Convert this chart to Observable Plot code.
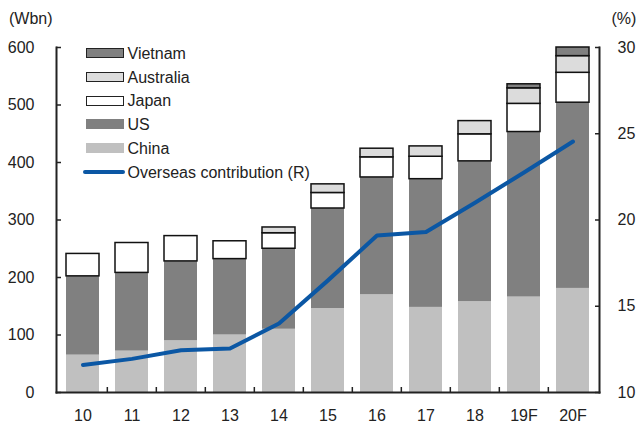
<!DOCTYPE html>
<html><head><meta charset="utf-8">
<script src="https://cdn.jsdelivr.net/npm/d3@7"></script>
<script src="https://cdn.jsdelivr.net/npm/@observablehq/plot@0.6"></script>
<style>
body{margin:0;background:#fff;font-family:"Liberation Sans",Arial,sans-serif;color:#222;}
#wrap{position:relative;width:637px;height:428px;overflow:hidden;}
#wrap svg{position:absolute;left:0;top:0;}
.t{position:absolute;font-size:16px;line-height:16px;white-space:nowrap;}
.sw{position:absolute;box-sizing:border-box;}
</style></head><body><div id="wrap"></div>
<script>
const years = ["10","11","12","13","14","15","16","17","18","19F","20F"];
const china = [65, 72, 90, 100, 110, 146, 170, 148, 158, 166, 181];
const us = [137, 136, 138, 132, 140, 174, 204, 223, 244, 287, 323];
const japan = [39, 52, 44, 31, 27, 27, 35, 39, 47, 49, 52];
const australia = [0, 0, 0, 0, 10, 15, 15, 18, 23, 27, 29];
const vietnam = [0, 0, 0, 0, 0, 0, 0, 0, 0, 7, 15];
const overseas = [11.6, 11.95, 12.45, 12.55, 14.0, 16.5, 19.1, 19.3, 21.0, 22.75, 24.55];
const leftTicks = [0, 100, 200, 300, 400, 500, 600];
const rightTicks = [10, 15, 20, 25, 30];

const series = [
  {name: "China", values: china, fill: "#c0c0c0", outline: false},
  {name: "US", values: us, fill: "#808080", outline: false},
  {name: "Japan", values: japan, fill: "#ffffff", outline: true},
  {name: "Australia", values: australia, fill: "#dcdcdc", outline: true},
  {name: "Vietnam", values: vietnam, fill: "#808080", outline: true}
];
const lineColor = "#0b57a4";
const rMin = 10, rMax = 30, lMax = 600;
const toLeft = v => (v - rMin) / (rMax - rMin) * lMax;

const barData = [];
for (const s of series) years.forEach((y, i) => {
  if (s.values[i] > 0) barData.push({year: y, series: s.name, value: s.values[i], fill: s.fill, stroke: s.outline ? "#111" : "none"});
});
const lineData = years.map((y, i) => ({year: y, v: toLeft(overseas[i])}));

const W = 637, H = 428, mL = 56, mR = 38, mT = 47, mB = 36;
const halfStep = (W - mL - mR) / (years.length - 0.33 + 0.334) / 2;

const chart = Plot.plot({
  width: W, height: H,
  marginLeft: mL, marginRight: mR, marginTop: mT, marginBottom: mB,
  style: {fontFamily: '"Liberation Sans", Arial, sans-serif', fontSize: "16px", color: "#222", background: "white"},
  x: {domain: years, paddingInner: 0.33, paddingOuter: 0.167, label: null},
  y: {domain: [0, lMax], label: null},
  marks: [
    Plot.barY(barData, {x: "year", y: "value", fill: "fill", stroke: "stroke", strokeWidth: 1.5, order: series.map(s => s.name), z: "series"}),
    Plot.line(lineData, {x: "year", y: "v", stroke: lineColor, strokeWidth: 4}),
    Plot.axisY(leftTicks, {anchor: "left", tickSize: -5, tickPadding: 27, strokeWidth: 1.5, fontSize: 16, label: null}),
    Plot.axisY(rightTicks.map(toLeft), {anchor: "right", tickSize: -5, tickPadding: 23, strokeWidth: 1.5, fontSize: 16, label: null, tickFormat: d => String(Math.round(d / lMax * (rMax - rMin) + rMin))}),
    Plot.axisX({anchor: "bottom", tickSize: 0, tickPadding: 17, fontSize: 16, label: null}),
    Plot.axisX(years.slice(1), {anchor: "bottom", tickSize: -5, dx: -halfStep, strokeWidth: 1.5, tickFormat: () => "", label: null}),
    Plot.frame({anchor: "left", strokeWidth: 2}),
    Plot.frame({anchor: "right", strokeWidth: 2}),
    Plot.frame({anchor: "bottom", strokeWidth: 2})
  ]
});
const wrap = document.getElementById("wrap");
wrap.appendChild(chart);

function addText(txt, left, top) {
  const d = document.createElement("div");
  d.className = "t"; d.textContent = txt;
  d.style.left = left + "px"; d.style.top = top + "px";
  wrap.appendChild(d);
  return d;
}
addText("(Wbn)", 9, 10.5);
addText("(%)", 611.5, 10.5);

// legend
const legendItems = [...series].reverse().map(s => ({label: s.name, fill: s.fill, outline: s.outline, line: false}));
legendItems.push({label: "Overseas contribution (R)", line: true});
legendItems.forEach((it, i) => {
  const baseline = 59.3 + 23.75 * i;
  const cy = baseline - 6.3;
  const sw = document.createElement("div");
  sw.className = "sw";
  if (it.line) {
    sw.style.left = "83px"; sw.style.width = "42px";
    sw.style.top = (cy - 2) + "px"; sw.style.height = "4px";
    sw.style.background = lineColor; sw.style.borderRadius = "2px";
  } else {
    sw.style.left = "86px"; sw.style.width = "38px";
    sw.style.top = (cy - 5) + "px"; sw.style.height = "10px";
    sw.style.background = it.fill;
    if (it.outline) sw.style.border = "1.5px solid #222";
  }
  wrap.appendChild(sw);
  addText(it.label, 127.5, baseline - 13.5);
});
</script></body></html>
